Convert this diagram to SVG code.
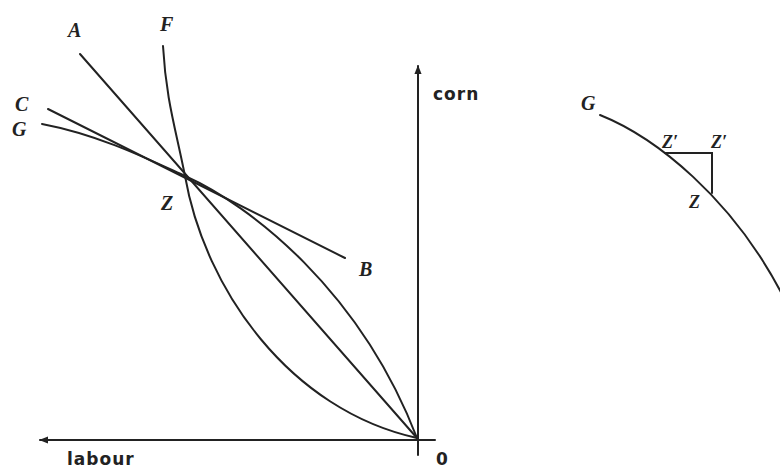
<svg xmlns="http://www.w3.org/2000/svg" width="780" height="471" viewBox="0 0 780 471">
<defs>
<style>
.ln{fill:none;stroke:#222;stroke-width:2;stroke-linecap:round}
.lab{font-family:"Liberation Serif","Times New Roman",serif;font-style:italic;font-weight:bold;font-size:20px;fill:#222}
.sm{font-size:18px}
.ax{font-family:"DejaVu Sans","Liberation Sans",sans-serif;font-weight:bold;font-size:17px;fill:#222;letter-spacing:1px}
</style>
<marker id="arr" viewBox="0 0 10 10" refX="9" refY="5" markerWidth="4.5" markerHeight="4.5" orient="auto-start-reverse" markerUnits="strokeWidth">
<path d="M0,1 L10,5 L0,9 Z" fill="#222"/>
</marker>
</defs>
<rect width="780" height="471" fill="#fff"/>
<g id="axes">
<line class="ln" x1="418" y1="455" x2="418" y2="66" marker-end="url(#arr)"/>
<line class="ln" x1="435" y1="440" x2="40" y2="440" marker-end="url(#arr)"/>
<text class="ax" x="433" y="100">corn</text>
<text class="ax" x="67" y="465">labour</text>
<text class="ax" x="436" y="465">0</text>
</g>
<g id="left-curves">
<line id="line-A" class="ln" x1="80" y1="54" x2="417" y2="438"/>
<line id="line-CB" class="ln" x1="48" y1="109" x2="345" y2="258"/>
<path id="curve-F" class="ln" d="M163,46 C166,100 176,130 185,176 C205,290 290,410 417,438"/>
<path id="curve-G" class="ln" d="M42,124 C100,135 150,160 185,176 C250,205 360,290 417,438"/>
</g>
<g id="left-labels">
<text class="lab" x="68" y="37">A</text>
<text class="lab" x="160" y="31">F</text>
<text class="lab" x="15" y="111">C</text>
<text class="lab" x="12" y="136">G</text>
<text class="lab" x="161" y="210">Z</text>
<text class="lab" x="359" y="276">B</text>
</g>
<g id="right-diagram">
<path id="curve-G2" class="ln" d="M600,115 C650,135 735,195 790,310"/>
<path id="triangle" class="ln" d="M665,153 L712,153 L712,193"/>
<text class="lab" x="581" y="110">G</text>
<text class="lab sm" x="662" y="148">Z′</text>
<text class="lab sm" x="711" y="148">Z′</text>
<text class="lab sm" x="689" y="208">Z</text>
</g>
</svg>
